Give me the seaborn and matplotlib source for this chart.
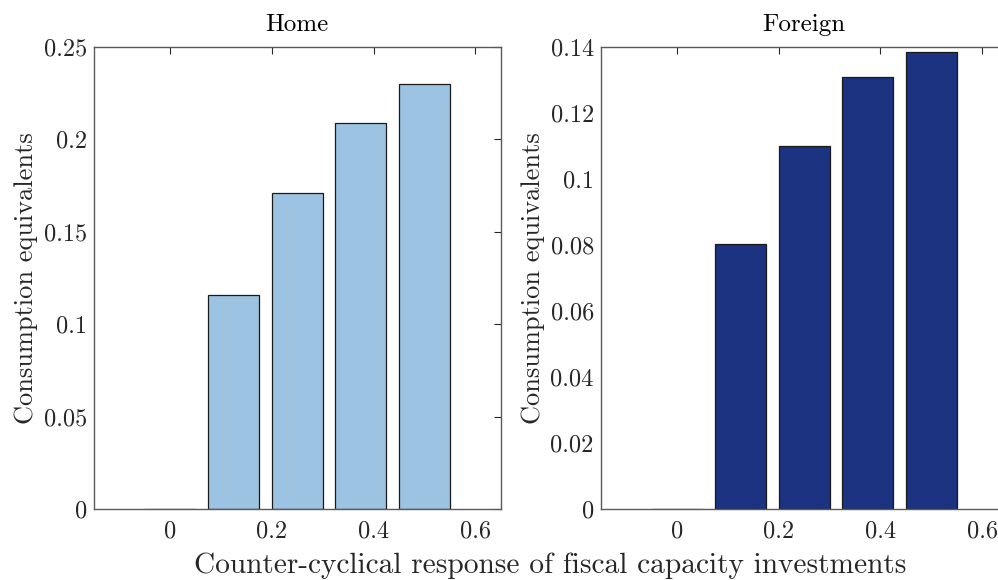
import matplotlib
matplotlib.use("Agg")
import matplotlib.pyplot as plt
import seaborn as sns
import numpy as np

# ---- data ----
x_response = [0, 0.125, 0.25, 0.375, 0.5]
home_vals = [0.0, 0.1157, 0.1710, 0.2089, 0.2300]
foreign_vals = [0.0, 0.0802, 0.1100, 0.1309, 0.1385]
titles = ["Home", "Foreign"]
x_ticks = [0, 0.2, 0.4, 0.6]
x_ticklabels = ["0", "0.2", "0.4", "0.6"]
home_yticks = [0, 0.05, 0.1, 0.15, 0.2, 0.25]
home_yticklabels = ["0", "0.05", "0.1", "0.15", "0.2", "0.25"]
foreign_yticks = [0, 0.02, 0.04, 0.06, 0.08, 0.1, 0.12, 0.14]
foreign_yticklabels = ["0", "0.02", "0.04", "0.06", "0.08", "0.1", "0.12", "0.14"]
ylabel = "Consumption equivalents"
xlabel = "Counter-cyclical response of fiscal capacity investments"
colors = ["#9DC3E3", "#1B3380"]

sns.set_theme(style="white")
plt.rcParams["font.family"] = ["cmr10", "DejaVu Serif"]
plt.rcParams["axes.formatter.use_mathtext"] = True

W, H = 998, 580
fig = plt.figure(figsize=(W / 100, H / 100), dpi=100)

def frac(x0, y_top, x1, y_bot):
    return [x0 / W, (H - y_bot) / H, (x1 - x0) / W, (y_bot - y_top) / H]

ax1 = fig.add_axes(frac(93.7, 46.7, 500.9, 509))
ax2 = fig.add_axes(frac(600.7, 46.7, 1007.6, 509))

specs = [
    (ax1, home_vals, colors[0], home_yticks, home_yticklabels, (0, 0.25)),
    (ax2, foreign_vals, colors[1], foreign_yticks, foreign_yticklabels, (0, 0.14)),
]

tick_fs = 17.5
title_fs = 18
ylabel_fs = 19
xlabel_fs = 21.2

for (ax, vals, col, yt, ytl, ylim), title in zip(specs, titles):
    sns.barplot(x=x_response, y=vals, native_scale=True, width=0.8,
                color=col, saturation=1, edgecolor="#1a1a1a", linewidth=0.9,
                errorbar=None, ax=ax)
    ax.set_xlim(-0.15, 0.65)
    ax.set_ylim(*ylim)
    ax.set_xticks(x_ticks)
    ax.set_xticklabels(x_ticklabels, fontsize=tick_fs)
    ax.set_yticks(yt)
    ax.set_yticklabels(ytl, fontsize=tick_fs)
    ax.tick_params(direction="in", length=5, width=0.8, colors="#262626",
                   top=True, right=True, labelcolor="#262626", pad=5)
    ax.tick_params(axis="x", pad=8)
    for s in ax.spines.values():
        s.set_color("#5a5a5a")
        s.set_linewidth(1.0)
        s.set_visible(True)
    ax.set_title(title, fontsize=title_fs, color="#000000", pad=11)
    ax.set_ylabel(ylabel, fontsize=ylabel_fs, color="#262626", labelpad=4)
    ax.set_xlabel("")

fig.text(550.6 / W, (H - 566) / H, xlabel, ha="center", va="center",
         fontsize=xlabel_fs, color="#262626")

fig.savefig("out.png", dpi=100)
